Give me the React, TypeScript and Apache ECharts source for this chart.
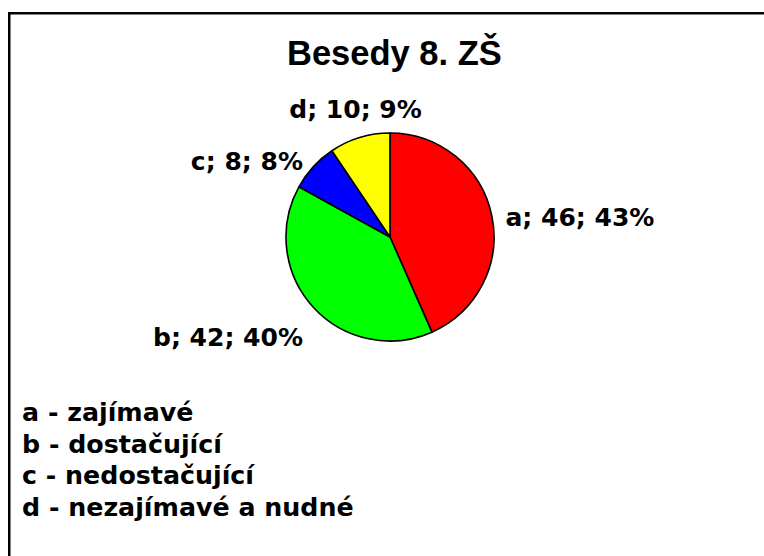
import React, { useEffect, useRef } from "react";
import * as echarts from "echarts";

const titleText = "Besedy 8. ZŠ";
const categories = ["a", "b", "c", "d"];
const values = [46, 42, 8, 10];
const descriptions = ["zajímavé", "dostačující", "nedostačující", "nezajímavé a nudné"];
const sliceColors = ["#FF0000", "#00FF00", "#0000FF", "#FFFF00"];

const CX = 390;
const CY = 237;
const RADIUS = 104;
const LABEL_R = 118;

export default function App() {
  const ref = useRef<HTMLDivElement>(null);
  useEffect(() => {
    if (!ref.current) return;
    const chart = echarts.init(ref.current, null, { renderer: "svg" });
    const total = values.reduce((s, v) => s + v, 0);
    const cum: number[] = [];
    values.reduce((s, v, i) => {
      cum[i] = s;
      return s + v;
    }, 0);

    chart.setOption({
      animation: false,
      backgroundColor: "#ffffff",
      title: {
        text: titleText,
        left: 287,
        top: 35,
        padding: 0,
        textStyle: {
          fontFamily: "Liberation Sans",
          fontWeight: "bold",
          fontSize: 34.5,
          color: "#000",
        },
      },
      legend: {
        orient: "vertical",
        left: 17,
        top: 400,
        padding: 0,
        icon: "none",
        itemWidth: 0,
        itemHeight: 10,
        itemGap: 6.7,
        selectedMode: false,
        data: categories,
        formatter: (name: string) => `${name} - ${descriptions[categories.indexOf(name)]}`,
        textStyle: {
          fontFamily: "DejaVu Sans",
          fontWeight: "bold",
          fontSize: 25.3,
          lineHeight: 25,
          color: "#000",
        },
      },
      graphic: [
        {
          type: "rect",
          shape: { x: 9.25, y: 13.25, width: 800, height: 600 },
          style: { fill: "none", stroke: "#000", lineWidth: 2.5 },
          silent: true,
        },
      ],
      series: [
        {
          type: "pie",
          center: [CX, CY],
          radius: RADIUS,
          startAngle: 90,
          clockwise: true,
          avoidLabelOverlap: false,
          data: categories.map((c, i) => ({
            name: c,
            value: values[i],
            itemStyle: { color: sliceColors[i] },
          })),
          itemStyle: { borderColor: "#000", borderWidth: 1.6 },
          emphasis: { disabled: true },
          labelLine: { show: false },
          label: {
            show: true,
            position: "outside",
            formatter: (p: any) => `${p.name}; ${p.value}; ${Math.round(p.percent)}%`,
            fontFamily: "DejaVu Sans",
            fontWeight: "bold",
            fontSize: 25,
            color: "#000",
          },
          labelLayout: (params: any) => {
            const i = params.dataIndex;
            const frac = (cum[i] + values[i] / 2) / total;
            const a = frac * Math.PI * 2;
            const ux = Math.sin(a);
            const uy = -Math.cos(a);
            const px = CX + LABEL_R * ux;
            const py = CY + LABEL_R * uy;
            if (Math.abs(ux) > 0.5) {
              const lower = uy > 0.5;
              return {
                x: px,
                y: py + (lower ? 8 : 4.5),
                align: ux > 0 ? "left" : "right",
                verticalAlign: lower ? "top" : "middle",
              };
            }
            return {
              x: px,
              y: py + (uy < 0 ? -2 : 2),
              align: "center",
              verticalAlign: uy < 0 ? "bottom" : "top",
            };
          },
        },
      ],
    });
    return () => chart.dispose();
  }, []);
  return (
    <div
      ref={ref}
      style={{ position: "fixed", left: 0, top: 0, width: 764, height: 556 }}
    />
  );
}
